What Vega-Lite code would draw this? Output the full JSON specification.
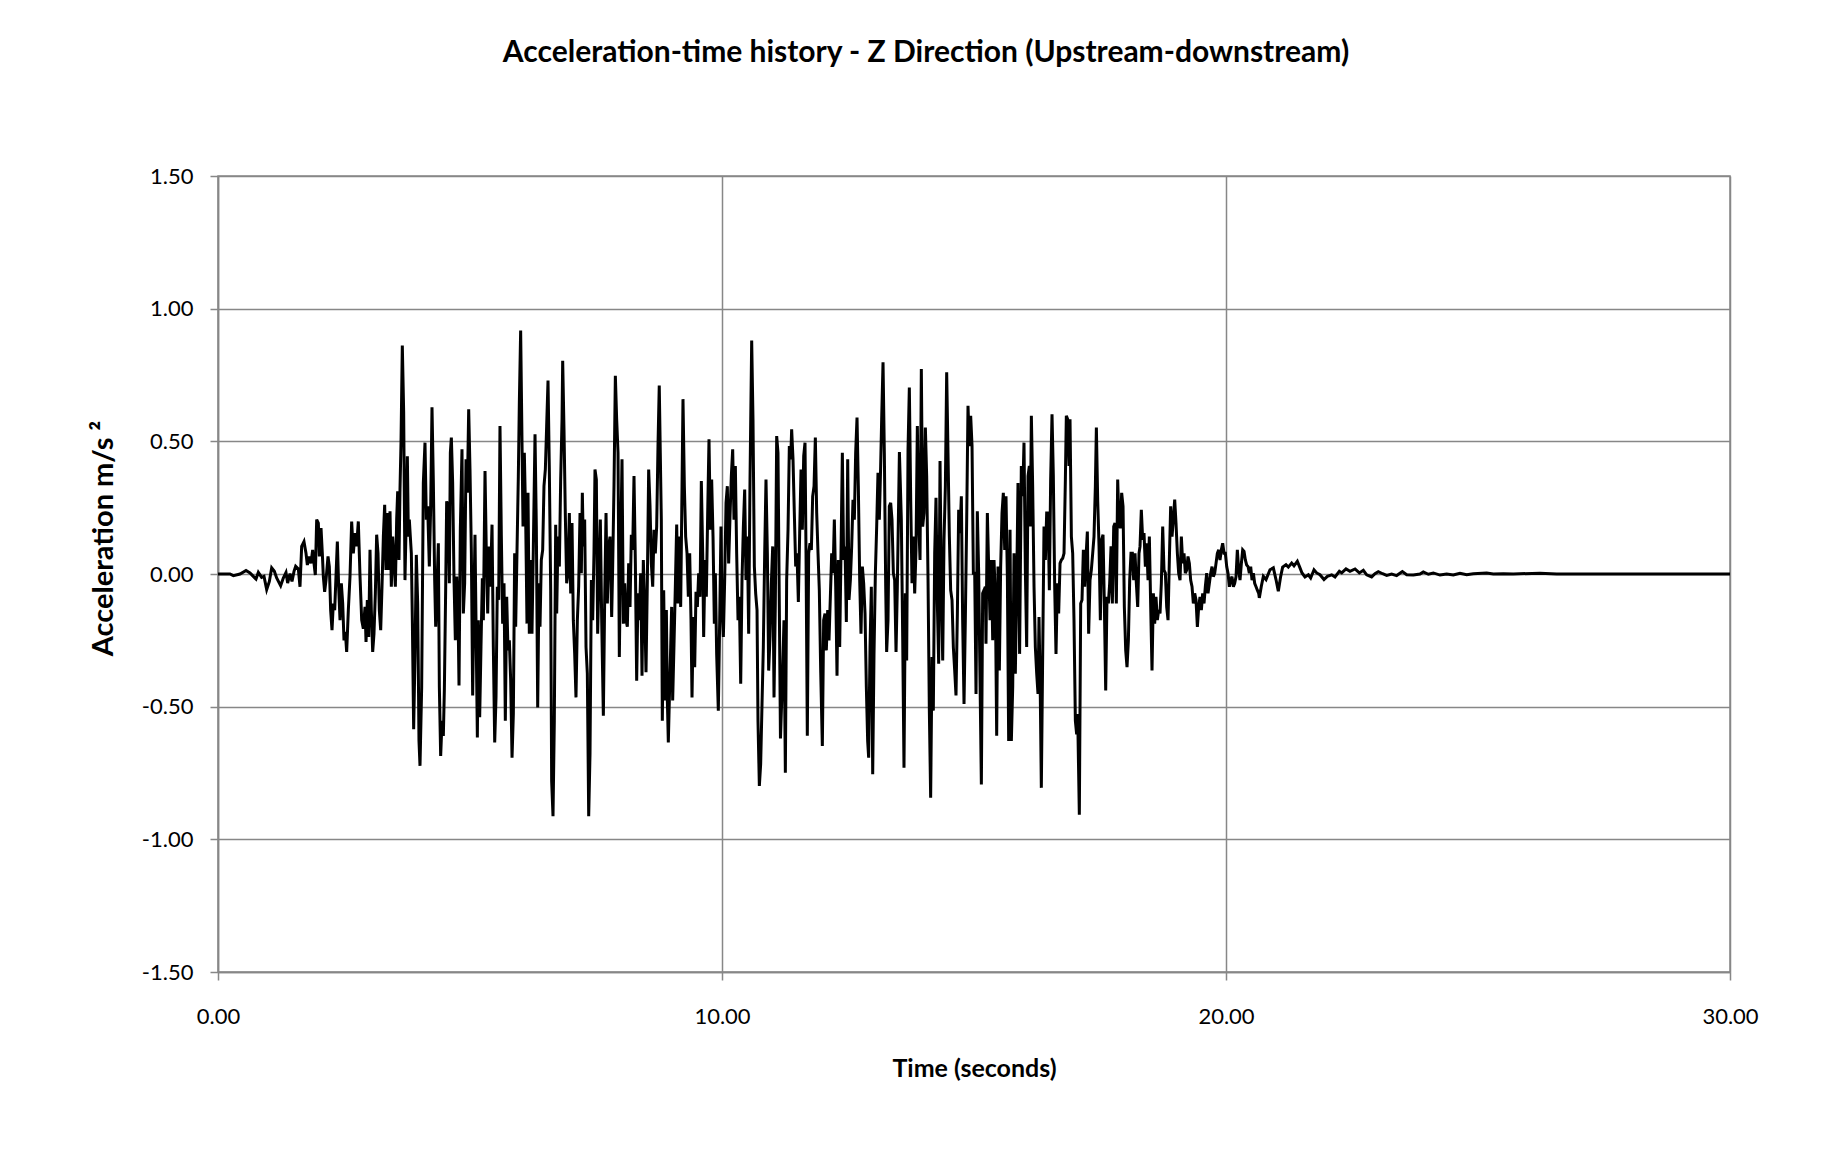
{
  "$schema": "https://vega.github.io/schema/vega-lite/v6.json",
  "autosize": {"type": "none"},
  "width": 1512,
  "height": 796,
  "padding": {"left": 218, "top": 176, "right": 108, "bottom": 185},
  "background": "white",
  "title": {
    "text": "Acceleration-time history - Z Direction (Upstream-downstream)",
    "font": "Lato",
    "fontSize": 30,
    "fontWeight": "bold",
    "color": "black",
    "anchor": "middle",
    "frame": "group",
    "baseline": "alphabetic",
    "dx": -48,
    "offset": 73
  },
  "data": {
    "values": [
      {"t":0,"a":0},{"t":0.238,"a":0},{"t":0.304,"a":-0.006},{"t":0.437,"a":0},{"t":0.556,"a":0.013},{"t":0.635,"a":0.004},{"t":0.701,"a":-0.009},{"t":0.754,"a":-0.019},{"t":0.8,"a":0.006},{"t":0.866,"a":-0.013},{"t":0.913,"a":-0.009},{"t":0.966,"a":-0.059},{"t":1.019,"a":-0.028},{"t":1.065,"a":0.023},{"t":1.118,"a":0.01},{"t":1.164,"a":-0.015},{"t":1.243,"a":-0.044},{"t":1.296,"a":-0.015},{"t":1.349,"a":0.006},{"t":1.382,"a":-0.034},{"t":1.429,"a":0.001},{"t":1.468,"a":-0.028},{"t":1.508,"a":0.01},{"t":1.541,"a":0.029},{"t":1.594,"a":0.019},
      {"t":1.627,"a":-0.048},{"t":1.66,"a":0.104},{"t":1.706,"a":0.122},{"t":1.746,"a":0.078},{"t":1.773,"a":0.034},{"t":1.812,"a":0.066},{"t":1.845,"a":0.04},{"t":1.878,"a":0.091},{"t":1.905,"a":0.04},{"t":1.931,"a":-0.004},{"t":1.958,"a":0.205},{"t":1.991,"a":0.192},{"t":2.011,"a":0.066},{"t":2.044,"a":0.173},{"t":2.07,"a":0.078},{"t":2.09,"a":-0.01},{"t":2.116,"a":-0.067},{"t":2.143,"a":-0.023},{"t":2.183,"a":0.066},{"t":2.209,"a":0.028},{"t":2.235,"a":-0.136},{"t":2.262,"a":-0.212},{"t":2.288,"a":-0.111},{"t":2.315,"a":-0.136},{"t":2.341,"a":-0.01},{"t":2.368,"a":0.122},{"t":2.394,"a":-0.048},{"t":2.421,"a":-0.174},{"t":2.447,"a":-0.035},{"t":2.474,"a":-0.111},{"t":2.5,"a":-0.25},{"t":2.527,"a":-0.218},{"t":2.553,"a":-0.294},{"t":2.586,"a":-0.136},{"t":2.619,"a":-0.01},{"t":2.652,"a":0.198},{"t":2.685,"a":0.078},{"t":2.718,"a":0.154},{"t":2.751,"a":0.104},{"t":2.784,"a":0.198},{"t":2.818,"a":-0.01},{"t":2.851,"a":-0.174},{"t":2.884,"a":-0.206},{"t":2.917,"a":-0.124},{"t":2.937,"a":-0.256},{"t":2.963,"a":-0.098},{"t":2.99,"a":-0.237},{"t":3.016,"a":0.091},{"t":3.042,"a":-0.136},{"t":3.069,"a":-0.294},{"t":3.095,"a":-0.225},{"t":3.122,"a":-0.073},{"t":3.148,"a":0.148},{"t":3.175,"a":0.078},{"t":3.201,"a":-0.136},{"t":3.228,"a":-0.212},{"t":3.254,"a":-0.048},{"t":3.281,"a":0.141},{"t":3.307,"a":0.261},{"t":3.333,"a":0.015},{"t":3.36,"a":0.23},{"t":3.386,"a":0.015},{"t":3.413,"a":0.236},{"t":3.439,"a":-0.048},{"t":3.466,"a":0.141},{"t":3.492,"a":0.053},{"t":3.519,"a":-0.048},{"t":3.545,"a":0.205},{"t":3.565,"a":0.312},{"t":3.591,"a":0.053},{"t":3.611,"a":0.318},{"t":3.631,"a":0.495},{"t":3.657,"a":0.861},{"t":3.684,"a":0.609},{"t":3.71,"a":-0.023},{"t":3.737,"a":0.23},{"t":3.757,"a":0.444},{"t":3.777,"a":0.141},{"t":3.796,"a":0.205},{"t":3.816,"a":0.141},{"t":3.836,"a":0.078},{"t":3.856,"a":-0.174},{"t":3.882,"a":-0.585},{"t":3.909,"a":-0.301},{"t":3.935,"a":0.072},{"t":3.962,"a":-0.111},{"t":3.988,"a":-0.629},
      {"t":4.008,"a":-0.723},{"t":4.041,"a":-0.427},{"t":4.074,"a":0.343},{"t":4.107,"a":0.495},{"t":4.134,"a":0.205},{"t":4.16,"a":0.255},{"t":4.193,"a":0.028},{"t":4.22,"a":0.255},{"t":4.246,"a":0.628},{"t":4.273,"a":0.343},{"t":4.299,"a":-0.023},{"t":4.319,"a":-0.199},{"t":4.345,"a":-0.048},{"t":4.372,"a":0.116},{"t":4.392,"a":-0.427},{"t":4.418,"a":-0.686},{"t":4.445,"a":-0.553},{"t":4.471,"a":-0.61},{"t":4.491,"a":-0.439},{"t":4.517,"a":-0.061},{"t":4.537,"a":0.274},{"t":4.564,"a":0.255},{"t":4.59,"a":-0.035},{"t":4.61,"a":0.457},{"t":4.63,"a":0.514},{"t":4.656,"a":0.343},{"t":4.683,"a":-0.023},{"t":4.709,"a":-0.25},{"t":4.736,"a":-0.01},{"t":4.762,"a":-0.136},{"t":4.782,"a":-0.42},{"t":4.808,"a":0.167},{"t":4.841,"a":0.47},{"t":4.868,"a":-0.149},{"t":4.894,"a":-0.035},{"t":4.921,"a":0.432},{"t":4.947,"a":0.306},{"t":4.974,"a":0.621},{"t":5.0,"a":0.394},{"t":5.027,"a":0.078},{"t":5.053,"a":-0.458},{"t":5.079,"a":-0.086},{"t":5.099,"a":0.148},{"t":5.119,"a":-0.174},{"t":5.146,"a":-0.616},{"t":5.165,"a":-0.174},{"t":5.192,"a":-0.54},{"t":5.218,"a":-0.275},{"t":5.245,"a":-0.016},{"t":5.265,"a":-0.174},{"t":5.298,"a":0.388},{"t":5.324,"a":0.078},{"t":5.351,"a":-0.149},{"t":5.377,"a":0.104},{"t":5.404,"a":-0.048},{"t":5.437,"a":0.186},{"t":5.463,"a":-0.275},{"t":5.49,"a":-0.635},{"t":5.516,"a":-0.465},{"t":5.542,"a":-0.048},{"t":5.569,"a":-0.098},{"t":5.595,"a":0.558},{"t":5.622,"a":0.141},{"t":5.648,"a":-0.187},{"t":5.675,"a":-0.035},{"t":5.701,"a":-0.553},{"t":5.728,"a":-0.086},{"t":5.754,"a":-0.288},{"t":5.781,"a":-0.25},{"t":5.807,"a":-0.402},{"t":5.834,"a":-0.692},{"t":5.86,"a":-0.528},{"t":5.886,"a":0.078},{"t":5.906,"a":-0.199},{"t":5.933,"a":0.091},{"t":5.959,"a":0.369},{"t":5.979,"a":0.646},{"t":6.005,"a":0.918},{"t":6.032,"a":0.495},{"t":6.052,"a":0.179},{"t":6.078,"a":0.457},{"t":6.105,"a":0.205},{"t":6.131,"a":-0.187},{"t":6.151,"a":0.306},{"t":6.177,"a":-0.225},{"t":6.204,"a":0.053},{"t":6.23,"a":-0.225},{"t":6.257,"a":0.104},{"t":6.29,"a":0.527},{"t":6.316,"a":0.179},{"t":6.343,"a":-0.503},{"t":6.369,"a":-0.035},
      {"t":6.389,"a":-0.199},{"t":6.415,"a":0.053},{"t":6.442,"a":0.091},{"t":6.468,"a":0.331},{"t":6.495,"a":0.394},{"t":6.521,"a":0.558},{"t":6.548,"a":0.729},{"t":6.574,"a":0.394},{"t":6.601,"a":-0.061},{"t":6.62,"a":-0.78},{"t":6.647,"a":-0.913},{"t":6.673,"a":-0.553},{"t":6.7,"a":0.186},{"t":6.72,"a":-0.149},{"t":6.746,"a":0.141},{"t":6.773,"a":0.028},{"t":6.799,"a":0.356},{"t":6.826,"a":0.583},{"t":6.839,"a":0.804},{"t":6.865,"a":0.545},{"t":6.892,"a":0.217},{"t":6.918,"a":-0.035},{"t":6.945,"a":0.003},{"t":6.971,"a":0.23},{"t":6.998,"a":-0.073},{"t":7.024,"a":0.192},{"t":7.05,"a":-0.174},{"t":7.077,"a":-0.301},{"t":7.103,"a":-0.465},{"t":7.13,"a":-0.174},{"t":7.156,"a":-0.048},{"t":7.183,"a":0.23},{"t":7.209,"a":0.003},{"t":7.229,"a":0.306},{"t":7.249,"a":0.104},{"t":7.275,"a":0.205},{"t":7.302,"a":-0.275},{"t":7.328,"a":-0.376},{"t":7.355,"a":-0.913},{"t":7.381,"a":-0.679},{"t":7.408,"a":-0.023},{"t":7.434,"a":-0.174},{"t":7.46,"a":0.078},{"t":7.48,"a":0.394},{"t":7.507,"a":0.356},{"t":7.533,"a":-0.225},{"t":7.56,"a":0.003},{"t":7.586,"a":0.205},{"t":7.613,"a":-0.174},{"t":7.646,"a":-0.534},{"t":7.672,"a":-0.098},{"t":7.699,"a":0.23},{"t":7.725,"a":-0.111},{"t":7.751,"a":0.104},{"t":7.778,"a":0.141},{"t":7.811,"a":-0.162},{"t":7.831,"a":0.028},{"t":7.857,"a":0.331},{"t":7.884,"a":0.747},{"t":7.91,"a":0.583},{"t":7.937,"a":0.457},{"t":7.963,"a":-0.313},{"t":7.99,"a":0.104},{"t":8.016,"a":0.432},{"t":8.043,"a":-0.187},{"t":8.069,"a":-0.035},{"t":8.095,"a":-0.174},{"t":8.122,"a":-0.199},{"t":8.148,"a":0.04},{"t":8.175,"a":-0.124},{"t":8.201,"a":0.148},{"t":8.228,"a":0.091},{"t":8.254,"a":0.369},{"t":8.281,"a":0.04},{"t":8.307,"a":-0.402},{"t":8.333,"a":-0.073},{"t":8.36,"a":-0.174},{"t":8.386,"a":0.003},{"t":8.413,"a":-0.383},{"t":8.439,"a":0.053},{"t":8.466,"a":-0.124},{"t":8.492,"a":-0.37},{"t":8.519,"a":-0.023},{"t":8.545,"a":0.394},{"t":8.572,"a":0.255},{"t":8.598,"a":0.04},{"t":8.625,"a":-0.048},{"t":8.651,"a":0.167},{"t":8.677,"a":0.078},{"t":8.704,"a":0.179},{"t":8.73,"a":0.482},{"t":8.755,"a":0.71},
      {"t":8.796,"a":0.205},{"t":8.816,"a":-0.553},{"t":8.843,"a":-0.061},{"t":8.869,"a":-0.477},{"t":8.896,"a":-0.136},{"t":8.916,"a":-0.477},{"t":8.935,"a":-0.635},{"t":8.955,"a":-0.477},{"t":8.982,"a":-0.275},{"t":9.001,"a":-0.124},{"t":9.021,"a":-0.477},{"t":9.048,"a":-0.263},{"t":9.074,"a":-0.048},{"t":9.101,"a":0.186},{"t":9.127,"a":-0.111},{"t":9.154,"a":0.141},{"t":9.18,"a":-0.124},{"t":9.207,"a":0.331},{"t":9.226,"a":0.659},{"t":9.253,"a":0.331},{"t":9.279,"a":0.141},{"t":9.306,"a":0.078},{"t":9.332,"a":-0.086},{"t":9.359,"a":0.078},{"t":9.385,"a":-0.174},{"t":9.405,"a":-0.465},{"t":9.431,"a":-0.162},{"t":9.458,"a":-0.351},{"t":9.484,"a":-0.067},{"t":9.511,"a":-0.124},{"t":9.537,"a":0.003},{"t":9.564,"a":-0.086},{"t":9.59,"a":0.35},{"t":9.617,"a":0.078},{"t":9.636,"a":-0.237},{"t":9.663,"a":0.053},{"t":9.689,"a":-0.086},{"t":9.716,"a":0.23},{"t":9.742,"a":0.508},{"t":9.769,"a":0.167},{"t":9.795,"a":0.356},{"t":9.822,"a":0.141},{"t":9.848,"a":-0.187},{"t":9.868,"a":0.003},{"t":9.894,"a":-0.301},{"t":9.927,"a":-0.515},{"t":9.954,"a":-0.174},{"t":9.98,"a":0.179},{"t":10.0,"a":-0.124},{"t":10.027,"a":-0.237},{"t":10.053,"a":-0.023},{"t":10.08,"a":0.268},{"t":10.106,"a":0.331},{"t":10.132,"a":0.04},{"t":10.159,"a":0.217},{"t":10.185,"a":0.369},{"t":10.212,"a":0.47},{"t":10.238,"a":0.205},{"t":10.265,"a":0.407},{"t":10.291,"a":0.078},{"t":10.318,"a":-0.174},{"t":10.344,"a":-0.086},{"t":10.371,"a":-0.414},{"t":10.397,"a":-0.023},{"t":10.424,"a":0.179},{"t":10.45,"a":0.318},{"t":10.476,"a":-0.023},{"t":10.503,"a":0.141},{"t":10.529,"a":-0.225},{"t":10.556,"a":0.356},{"t":10.589,"a":0.88},{"t":10.615,"a":0.583},{"t":10.642,"a":0.028},{"t":10.668,"a":-0.073},{"t":10.695,"a":-0.136},{"t":10.714,"a":-0.553},{"t":10.741,"a":-0.799},{"t":10.767,"a":-0.717},{"t":10.794,"a":-0.49},{"t":10.82,"a":-0.275},{"t":10.847,"a":0.078},{"t":10.873,"a":0.356},{"t":10.9,"a":0.078},{"t":10.926,"a":-0.364},{"t":10.953,"a":-0.237},{"t":10.979,"a":-0.035},{"t":11.006,"a":0.104},{"t":11.032,"a":-0.465},{"t":11.058,"a":-0.111},{"t":11.085,"a":0.52},{"t":11.111,"a":0.457},{"t":11.16,"a":-0.62},
      {"t":11.204,"a":-0.364},{"t":11.23,"a":-0.174},{"t":11.257,"a":-0.749},{"t":11.283,"a":-0.023},{"t":11.31,"a":0.167},{"t":11.336,"a":0.482},{"t":11.363,"a":0.432},{"t":11.382,"a":0.545},{"t":11.409,"a":0.432},{"t":11.435,"a":0.23},{"t":11.462,"a":0.028},{"t":11.488,"a":0.078},{"t":11.515,"a":-0.105},{"t":11.541,"a":0.154},{"t":11.568,"a":0.394},{"t":11.594,"a":0.167},{"t":11.621,"a":0.444},{"t":11.647,"a":0.495},{"t":11.667,"a":0.078},{"t":11.693,"a":-0.61},{"t":11.72,"a":0.078},{"t":11.746,"a":0.116},{"t":11.773,"a":0.091},{"t":11.799,"a":0.293},{"t":11.826,"a":0.331},{"t":11.852,"a":0.514},{"t":11.879,"a":0.23},{"t":11.905,"a":0.078},{"t":11.931,"a":-0.061},{"t":11.958,"a":-0.364},{"t":11.991,"a":-0.648},{"t":12.017,"a":-0.174},{"t":12.044,"a":-0.149},{"t":12.07,"a":-0.288},{"t":12.097,"a":-0.136},{"t":12.123,"a":-0.25},{"t":12.15,"a":-0.086},{"t":12.176,"a":0.078},{"t":12.203,"a":0.003},{"t":12.229,"a":0.205},{"t":12.256,"a":-0.048},{"t":12.282,"a":-0.383},{"t":12.308,"a":0.053},{"t":12.335,"a":-0.275},{"t":12.361,"a":0.078},{"t":12.388,"a":0.457},{"t":12.414,"a":0.053},{"t":12.441,"a":0.104},{"t":12.467,"a":-0.181},{"t":12.494,"a":0.432},{"t":12.52,"a":-0.098},{"t":12.547,"a":-0.023},{"t":12.573,"a":0.104},{"t":12.599,"a":0.28},{"t":12.626,"a":0.205},{"t":12.652,"a":0.457},{"t":12.679,"a":0.59},{"t":12.705,"a":0.331},{"t":12.732,"a":-0.023},{"t":12.758,"a":-0.225},{"t":12.785,"a":0.028},{"t":12.811,"a":-0.035},{"t":12.838,"a":-0.149},{"t":12.864,"a":-0.427},{"t":12.89,"a":-0.629},{"t":12.91,"a":-0.692},{"t":12.937,"a":-0.275},{"t":12.963,"a":-0.048},{"t":12.99,"a":-0.755},{"t":13.016,"a":-0.301},{"t":13.043,"a":0.003},{"t":13.069,"a":0.179},{"t":13.095,"a":0.381},{"t":13.122,"a":0.205},{"t":13.148,"a":0.407},{"t":13.168,"a":0.583},{"t":13.195,"a":0.798},{"t":13.221,"a":0.457},{"t":13.248,"a":-0.048},{"t":13.267,"a":-0.294},{"t":13.294,"a":-0.174},{"t":13.32,"a":0.255},{"t":13.347,"a":0.268},{"t":13.373,"a":0.205},{"t":13.4,"a":0.003},{"t":13.426,"a":-0.023},{"t":13.453,"a":-0.294},{"t":13.479,"a":-0.048},{"t":13.52,"a":0.46},
      {"t":13.558,"a":0.205},{"t":13.585,"a":-0.237},{"t":13.611,"a":-0.73},{"t":13.638,"a":-0.073},{"t":13.664,"a":-0.326},{"t":13.691,"a":0.47},{"t":13.717,"a":0.703},{"t":13.744,"a":0.28},{"t":13.77,"a":-0.035},{"t":13.797,"a":0.141},{"t":13.823,"a":-0.073},{"t":13.849,"a":0.091},{"t":13.876,"a":0.558},{"t":13.902,"a":0.205},{"t":13.929,"a":0.053},{"t":13.955,"a":0.773},{"t":13.982,"a":0.179},{"t":14.008,"a":0.23},{"t":14.035,"a":0.552},{"t":14.061,"a":0.369},{"t":14.088,"a":-0.023},{"t":14.114,"a":-0.515},{"t":14.14,"a":-0.843},{"t":14.167,"a":-0.313},{"t":14.193,"a":-0.515},{"t":14.22,"a":0.078},{"t":14.246,"a":0.287},{"t":14.273,"a":-0.111},{"t":14.299,"a":-0.338},{"t":14.326,"a":0.426},{"t":14.352,"a":-0.048},{"t":14.379,"a":-0.326},{"t":14.405,"a":0.129},{"t":14.432,"a":0.331},{"t":14.458,"a":0.76},{"t":14.484,"a":0.457},{"t":14.511,"a":0.141},{"t":14.537,"a":-0.061},{"t":14.564,"a":-0.098},{"t":14.59,"a":-0.275},{"t":14.617,"a":-0.364},{"t":14.643,"a":-0.458},{"t":14.67,"a":-0.149},{"t":14.696,"a":0.242},{"t":14.723,"a":0.154},{"t":14.749,"a":0.293},{"t":14.775,"a":-0.174},{"t":14.802,"a":-0.49},{"t":14.828,"a":-0.174},{"t":14.855,"a":0.205},{"t":14.881,"a":0.634},{"t":14.908,"a":0.482},{"t":14.934,"a":0.596},{"t":14.961,"a":0.482},{"t":14.987,"a":0.003},{"t":15.014,"a":0.003},{"t":15.04,"a":-0.452},{"t":15.066,"a":0.236},{"t":15.093,"a":0.003},{"t":15.119,"a":-0.389},{"t":15.146,"a":-0.793},{"t":15.172,"a":-0.073},{"t":15.199,"a":-0.061},{"t":15.225,"a":-0.048},{"t":15.238,"a":-0.263},{"t":15.265,"a":0.23},{"t":15.291,"a":0.028},{"t":15.318,"a":-0.174},{"t":15.344,"a":0.053},{"t":15.371,"a":-0.25},{"t":15.397,"a":0.053},{"t":15.424,"a":-0.086},{"t":15.45,"a":-0.61},{"t":15.476,"a":0.028},{"t":15.503,"a":-0.364},{"t":15.529,"a":0.028},{"t":15.556,"a":0.23},{"t":15.582,"a":0.306},{"t":15.609,"a":0.091},{"t":15.635,"a":0.293},{"t":15.662,"a":-0.01},{"t":15.688,"a":-0.629},{"t":15.715,"a":0.167},{"t":15.741,"a":-0.629},{"t":15.768,"a":-0.427},{"t":15.794,"a":0.078},{"t":15.82,"a":-0.376},{"t":15.847,"a":-0.048},{"t":15.873,"a":0.343},{"t":15.905,"a":-0.301},
      {"t":15.939,"a":0.407},{"t":15.966,"a":0.293},{"t":15.992,"a":0.495},{"t":16.019,"a":0.015},{"t":16.045,"a":-0.275},{"t":16.072,"a":0.369},{"t":16.098,"a":0.407},{"t":16.118,"a":0.179},{"t":16.138,"a":0.596},{"t":16.164,"a":0.331},{"t":16.191,"a":-0.048},{"t":16.217,"a":-0.275},{"t":16.244,"a":-0.376},{"t":16.27,"a":-0.452},{"t":16.29,"a":-0.162},{"t":16.316,"a":-0.465},{"t":16.336,"a":-0.806},{"t":16.363,"a":-0.301},{"t":16.389,"a":0.179},{"t":16.416,"a":0.053},{"t":16.442,"a":0.23},{"t":16.469,"a":0.23},{"t":16.495,"a":-0.061},{"t":16.521,"a":0.356},{"t":16.548,"a":0.602},{"t":16.574,"a":0.369},{"t":16.601,"a":-0.048},{"t":16.627,"a":-0.301},{"t":16.654,"a":-0.035},{"t":16.68,"a":-0.149},{"t":16.707,"a":0.04},{"t":16.733,"a":0.053},{"t":16.76,"a":0.059},{"t":16.786,"a":0.078},{"t":16.813,"a":0.356},{"t":16.832,"a":0.596},{"t":16.859,"a":0.583},{"t":16.885,"a":0.407},{"t":16.905,"a":0.583},{"t":16.932,"a":0.141},{"t":16.958,"a":0.078},{"t":16.984,"a":-0.174},{"t":17.011,"a":-0.553},{"t":17.037,"a":-0.604},{"t":17.057,"a":-0.528},{"t":17.09,"a":-0.907},{"t":17.117,"a":-0.111},{"t":17.143,"a":-0.098},{"t":17.17,"a":0.091},{"t":17.196,"a":-0.048},{"t":17.223,"a":0.066},{"t":17.249,"a":0.16},{"t":17.275,"a":-0.225},{"t":17.302,"a":-0.023},{"t":17.328,"a":0.015},{"t":17.355,"a":0.078},{"t":17.381,"a":0.141},{"t":17.408,"a":0.331},{"t":17.428,"a":0.552},{"t":17.454,"a":0.28},{"t":17.481,"a":0.104},{"t":17.507,"a":-0.174},{"t":17.533,"a":0.129},{"t":17.56,"a":0.148},{"t":17.586,"a":-0.111},{"t":17.613,"a":-0.439},{"t":17.639,"a":-0.086},{"t":17.666,"a":-0.111},{"t":17.692,"a":-0.035},{"t":17.719,"a":0.104},{"t":17.745,"a":-0.111},{"t":17.772,"a":0.179},{"t":17.798,"a":0.192},{"t":17.824,"a":-0.111},{"t":17.851,"a":0.356},{"t":17.877,"a":0.192},{"t":17.904,"a":0.173},{"t":17.93,"a":0.306},{"t":17.957,"a":0.255},{"t":17.983,"a":-0.124},{"t":18.01,"a":-0.288},{"t":18.036,"a":-0.351},{"t":18.063,"a":-0.25},{"t":18.089,"a":-0.023},{"t":18.115,"a":0.078},{"t":18.142,"a":0.078},{"t":18.168,"a":-0.023},{"t":18.195,"a":0.078},{"t":18.221,"a":-0.035},{"t":18.248,"a":-0.124},{"t":18.274,"a":0.078},
      {"t":18.294,"a":0.104},{"t":18.32,"a":0.242},{"t":18.347,"a":0.129},{"t":18.373,"a":0.154},{"t":18.4,"a":0.028},{"t":18.426,"a":0.116},{"t":18.453,"a":-0.023},{"t":18.479,"a":0.141},{"t":18.506,"a":-0.124},{"t":18.532,"a":-0.364},{"t":18.559,"a":-0.073},{"t":18.585,"a":-0.187},{"t":18.611,"a":-0.086},{"t":18.638,"a":-0.174},{"t":18.664,"a":-0.136},{"t":18.691,"a":-0.149},{"t":18.717,"a":-0.035},{"t":18.744,"a":0.179},{"t":18.77,"a":0.015},{"t":18.797,"a":0.003},{"t":18.823,"a":-0.124},{"t":18.85,"a":-0.174},{"t":18.876,"a":0.053},{"t":18.902,"a":0.255},{"t":18.929,"a":0.141},{"t":18.955,"a":0.205},{"t":18.982,"a":0.28},{"t":19.008,"a":0.192},{"t":19.035,"a":0.078},{"t":19.061,"a":0.003},{"t":19.088,"a":-0.023},{"t":19.114,"a":0.141},{"t":19.141,"a":0.04},{"t":19.167,"a":0.078},{"t":19.193,"a":0.003},{"t":19.22,"a":0.015},{"t":19.246,"a":0.066},{"t":19.273,"a":0.04},{"t":19.299,"a":-0.023},{"t":19.326,"a":-0.048},{"t":19.352,"a":-0.111},{"t":19.379,"a":-0.073},{"t":19.405,"a":-0.098},{"t":19.432,"a":-0.199},{"t":19.458,"a":-0.124},{"t":19.484,"a":-0.086},{"t":19.511,"a":-0.136},{"t":19.537,"a":-0.073},{"t":19.564,"a":-0.111},{"t":19.59,"a":-0.048},{"t":19.617,"a":0.003},{"t":19.643,"a":-0.073},{"t":19.67,"a":-0.035},{"t":19.696,"a":0.003},{"t":19.723,"a":0.028},{"t":19.749,"a":-0.01},{"t":19.776,"a":0.003},{"t":19.802,"a":0.04},{"t":19.828,"a":0.078},{"t":19.855,"a":0.091},{"t":19.881,"a":0.053},{"t":19.908,"a":0.091},{"t":19.934,"a":0.116},{"t":19.961,"a":0.078},{"t":19.987,"a":0.078},{"t":20.014,"a":0.028},{"t":20.04,"a":0.003},{"t":20.067,"a":-0.048},{"t":20.093,"a":-0.023},{"t":20.119,"a":-0.01},{"t":20.146,"a":-0.048},{"t":20.172,"a":-0.035},{"t":20.199,"a":-0.01},{"t":20.225,"a":0.091},{"t":20.252,"a":0.015},{"t":20.278,"a":-0.023},{"t":20.305,"a":0.04},{"t":20.331,"a":0.091},{"t":20.358,"a":0.085},{"t":20.384,"a":0.053},{"t":20.41,"a":0.034},{"t":20.437,"a":0.028},{"t":20.463,"a":0.003},{"t":20.49,"a":0.028},{"t":20.516,"a":-0.023},{"t":20.543,"a":0.003},{"t":20.569,"a":-0.035},{"t":20.596,"a":-0.048},{"t":20.622,"a":-0.061},{"t":20.649,"a":-0.073},
      {"t":20.661,"a":-0.09},{"t":20.701,"a":-0.046},{"t":20.741,"a":-0.009},{"t":20.794,"a":-0.021},{"t":20.873,"a":0.016},{"t":20.939,"a":0.023},{"t":20.992,"a":-0.021},{"t":21.038,"a":-0.065},{"t":21.085,"a":-0.009},{"t":21.124,"a":0.026},{"t":21.19,"a":0.035},{"t":21.237,"a":0.026},{"t":21.303,"a":0.041},{"t":21.349,"a":0.031},{"t":21.415,"a":0.048},{"t":21.468,"a":0.023},{"t":21.508,"a":0.004},{"t":21.567,"a":-0.011},{"t":21.634,"a":-0.003},{"t":21.68,"a":-0.015},{"t":21.746,"a":0.016},{"t":21.799,"a":0.004},{"t":21.865,"a":-0.003},{"t":21.944,"a":-0.021},{"t":22.011,"a":-0.009},{"t":22.097,"a":-0.003},{"t":22.163,"a":-0.011},{"t":22.249,"a":0.01},{"t":22.296,"a":0.004},{"t":22.381,"a":0.019},{"t":22.46,"a":0.01},{"t":22.56,"a":0.019},{"t":22.646,"a":0.004},{"t":22.725,"a":0.014},{"t":22.791,"a":-0.003},{"t":22.89,"a":-0.011},{"t":22.956,"a":0.001},{"t":23.022,"a":0.009},{"t":23.108,"a":0.001},{"t":23.188,"a":-0.005},{"t":23.287,"a":0},{"t":23.386,"a":-0.006},{"t":23.499,"a":0.009},{"t":23.585,"a":-0.003},{"t":23.717,"a":-0.004},{"t":23.849,"a":0},{"t":23.915,"a":0.008},{"t":24.015,"a":-0.001},{"t":24.114,"a":0.004},{"t":24.246,"a":-0.004},{"t":24.378,"a":0},{"t":24.511,"a":-0.004},{"t":24.643,"a":0.003},{"t":24.775,"a":-0.003},{"t":24.907,"a":0.001},{"t":25.172,"a":0.004},{"t":25.304,"a":0},{"t":25.503,"a":0.001},{"t":25.701,"a":0},{"t":26.23,"a":0.003},{"t":26.561,"a":0},{"t":27,"a":0},{"t":28,"a":0},{"t":29,"a":0},{"t":30,"a":0}
    ]
  },
  "mark": {"type": "line", "color": "black", "strokeWidth": 3, "strokeJoin": "miter", "strokeMiterLimit": 4, "clip": true},
  "encoding": {
    "x": {
      "field": "t",
      "type": "quantitative",
      "scale": {"domain": [0, 30], "nice": false, "zero": false},
      "axis": {
        "title": "Time (seconds)",
        "values": [0, 10, 20, 30],
        "labelExpr": "(datum.value < 0 ? '-' : '') + format(abs(datum.value), '.2f')",
        "labelFlush": false,
        "labelPadding": 26,
        "titleFontSize": 25,
        "titleY": 96,
        "titleBaseline": "middle"
      }
    },
    "y": {
      "field": "a",
      "type": "quantitative",
      "scale": {"domain": [-1.5, 1.5], "nice": false, "zero": false},
      "axis": {
        "title": "Acceleration m/s ²",
        "values": [-1.5, -1, -0.5, 0, 0.5, 1, 1.5],
        "labelExpr": "(datum.value < 0 ? '-' : '') + format(abs(datum.value), '.2f')",
        "labelFlush": false,
        "labelPadding": 17,
        "titleFontSize": 29,
        "titleX": -115,
        "titleY": 362,
        "titleBaseline": "middle"
      }
    }
  },
  "config": {
    "view": {"stroke": "#878787", "strokeWidth": 1.5},
    "axis": {
      "grid": true,
      "gridColor": "#878787",
      "gridWidth": 1.5,
      "gridOpacity": 1,
      "domainColor": "#878787",
      "domainWidth": 1.5,
      "tickColor": "#878787",
      "tickWidth": 1.5,
      "tickSize": 8,
      "labelFont": "Lato",
      "labelFontSize": 22,
      "labelColor": "black",
      "titleFont": "Lato",
      "titleFontWeight": "bold",
      "titleColor": "black"
    }
  }
}
